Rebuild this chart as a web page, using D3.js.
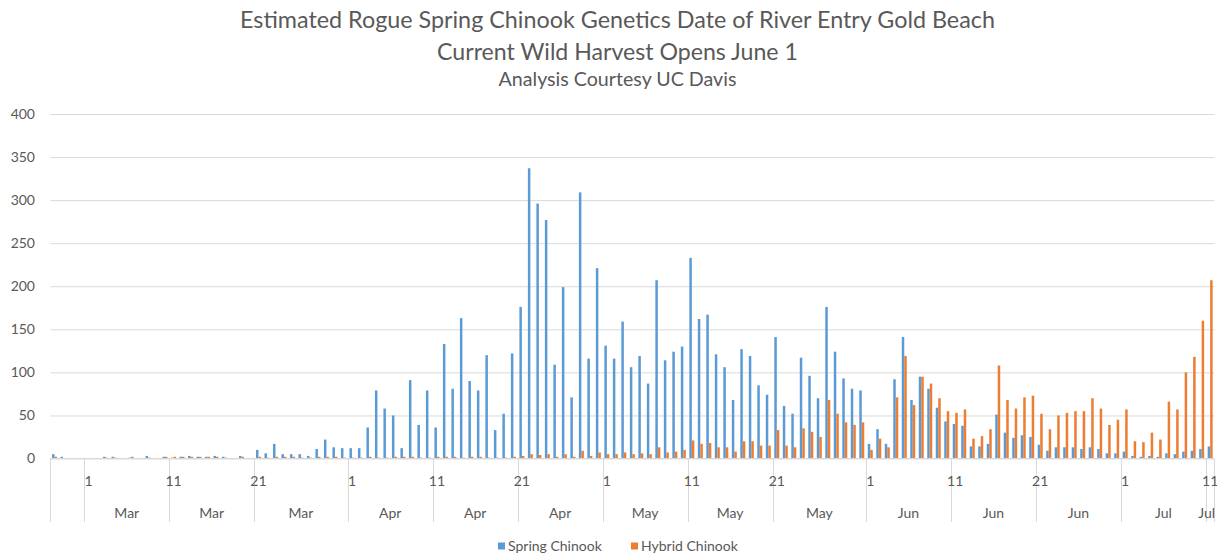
<!DOCTYPE html>
<html>
<head>
<meta charset="utf-8">
<script src="https://cdn.jsdelivr.net/npm/d3@7"></script>
<style>
  body { margin: 0; background: #ffffff; }
  svg { display: block; font-family: Lato, "Open Sans", "DejaVu Sans", sans-serif; }
</style>
</head>
<body>
<svg id="chart" width="1217" height="558"></svg>
<script>
// ---------------- DATA ----------------
const titleLines = [
  "Estimated Rogue Spring Chinook Genetics Date of River Entry Gold Beach",
  "Current Wild Harvest Opens June 1",
  "Analysis Courtesy UC Davis"
];
const seriesNames = ["Spring Chinook", "Hybrid Chinook"];
const seriesColors = ["#5B9BD5", "#ED7D31"];

// categories: one per day, Feb 25 through Jul 11
const firstDay = new Date(2019, 1, 25);
const dayAfterLast = new Date(2019, 6, 12);
const categories = d3.timeDay.range(firstDay, dayAfterLast);

const springChinook = [
  5, 2, 0, 0, 0, 0, 2, 2, 0, 1,
  0, 3, 0, 2, 1, 2, 3, 2, 2, 3,
  2, 0, 3, 0, 10, 6, 17, 5, 5, 5,
  3, 11, 22, 13, 12, 12, 12, 36, 79, 58,
  50, 12, 91, 39, 79, 36, 133, 81, 163, 90,
  79, 120, 33, 52, 122, 176, 337, 296, 277, 109,
  199, 71, 309, 116, 221, 131, 116, 159, 106, 119,
  87, 207, 114, 124, 130, 233, 162, 167, 121, 106,
  68, 127, 119, 85, 74, 141, 61, 52, 117, 96,
  70, 176, 124, 93, 81, 79, 17, 34, 17, 92,
  141, 68, 95, 81, 59, 43, 40, 38, 14, 14,
  17, 51, 30, 24, 27, 25, 16, 9, 13, 13,
  13, 11, 13, 11, 6, 6, 8, 3, 2, 3,
  2, 6, 5, 8, 9, 11, 14
];
const hybridChinook = [
  2, 0, 0, 0, 0, 0, 1, 1, 0, 2,
  0, 1, 0, 2, 2, 2, 2, 2, 2, 2,
  1, 0, 2, 0, 2, 1, 2, 2, 2, 1,
  1, 2, 2, 2, 1, 1, 1, 2, 1, 1,
  2, 2, 2, 1, 1, 2, 2, 2, 1, 2,
  2, 1, 1, 1, 2, 3, 5, 4, 5, 2,
  5, 2, 9, 3, 7, 5, 5, 7, 5, 6,
  5, 13, 7, 8, 10, 21, 17, 18, 13, 13,
  8, 20, 20, 15, 15, 33, 15, 13, 35, 31,
  25, 68, 52, 42, 39, 42, 10, 23, 13, 71,
  119, 62, 95, 87, 70, 55, 53, 57, 23, 26,
  34, 108, 68, 58, 71, 73, 52, 34, 50, 53,
  55, 55, 70, 58, 39, 45, 57, 20, 19, 30,
  22, 66, 57, 100, 118, 160, 207
];
const yTicks = [0, 50, 100, 150, 200, 250, 300, 350, 400];
const labelledDays = [1, 11, 21];
const monthNames = ["Jan","Feb","Mar","Apr","May","Jun","Jul","Aug","Sep","Oct","Nov","Dec"];

// ---------------- LAYOUT ----------------
const svg = d3.select("#chart");
const plotLeft = 50.3, plotRight = 1214.4, plotTop = 114, plotBottom = 458.5;
const textColor = "#595959";
const gridColor = "#d9d9d9";

const x = d3.scaleBand().domain(categories).range([plotLeft, plotRight]).padding(0);
const xSub = d3.scaleBand().domain(seriesNames).range([0, x.bandwidth()])
  .paddingInner(0).paddingOuter(0.7);
const y = d3.scaleLinear().domain([0, 400]).range([plotBottom, plotTop]);

// titles
function fitWidth(sel, target) {
  const w = sel.node().getComputedTextLength();
  const fs = parseFloat(sel.attr("font-size"));
  sel.attr("font-size", (fs * target / w).toFixed(2));
}
const titleSpecs = [
  { y: 28, size: 21, width: 755 },
  { y: 60, size: 21, width: 361 },
  { y: 86, size: 16, width: 238 }
];
titleLines.forEach((t, i) => {
  const s = svg.append("text")
    .attr("x", 617.5).attr("y", titleSpecs[i].y)
    .attr("text-anchor", "middle")
    .attr("font-size", titleSpecs[i].size)
    .attr("fill", textColor)
    .text(t);
  fitWidth(s, titleSpecs[i].width);
});

// gridlines + y labels
const yAxis = d3.axisLeft(y).tickValues(yTicks).tickSize(-(plotRight - plotLeft)).tickPadding(15);
const gy = svg.append("g").attr("transform", `translate(${plotLeft},0)`).call(yAxis);
gy.select(".domain").remove();
gy.selectAll(".tick line").attr("stroke", gridColor).attr("stroke-width", 1);
gy.selectAll(".tick text").attr("fill", textColor).attr("font-size", 14)
  .attr("font-family", "Lato, 'Open Sans', sans-serif").attr("x", 35 - plotLeft);

// bars
const series = [springChinook, hybridChinook];
series.forEach((vals, si) => {
  svg.append("g").selectAll("rect")
    .data(categories.map((d, i) => ({ d, v: vals[i] })))
    .join("rect")
    .attr("x", p => x(p.d) + xSub(seriesNames[si]))
    .attr("width", xSub.bandwidth())
    .attr("y", p => y(p.v))
    .attr("height", p => y(0) - y(p.v))
    .attr("fill", seriesColors[si]);
});

// x axis baseline
svg.append("line")
  .attr("x1", plotLeft).attr("x2", plotRight)
  .attr("y1", plotBottom).attr("y2", plotBottom)
  .attr("stroke", gridColor).attr("stroke-width", 1);

// separators & labels
const labelDates = categories.filter(d => labelledDays.includes(d.getDate()));
const sepXs = [plotLeft, ...labelDates.map(d => x(d)), plotRight];
svg.append("g").selectAll("line").data(sepXs).join("line")
  .attr("x1", d => Math.round(d) + 0.5).attr("x2", d => Math.round(d) + 0.5)
  .attr("y1", plotBottom).attr("y2", 522)
  .attr("stroke", gridColor).attr("stroke-width", 1);

svg.append("g").selectAll("text").data(labelDates).join("text")
  .attr("x", d => x(d) + x.bandwidth() / 2)
  .attr("y", 486)
  .attr("text-anchor", "middle")
  .attr("font-size", 14)
  .attr("fill", textColor)
  .text(d => String(d.getDate()));

const segs = labelDates.map((d, i) => ({
  d, x0: x(d), x1: i + 1 < labelDates.length ? x(labelDates[i + 1]) : plotRight,
  last: i + 1 === labelDates.length
}));
svg.append("g").selectAll("text").data(segs).join("text")
  .attr("x", s => s.last ? 1215 : (s.x0 + s.x1) / 2)
  .attr("y", 518)
  .attr("text-anchor", s => s.last ? "end" : "middle")
  .attr("font-size", 14)
  .attr("fill", textColor)
  .text(s => monthNames[s.d.getMonth()]);

// legend
const legendItems = [
  { name: seriesNames[0], color: seriesColors[0], sx: 498 },
  { name: seriesNames[1], color: seriesColors[1], sx: 631 }
];
const lg = svg.append("g");
legendItems.forEach(it => {
  lg.append("rect").attr("x", it.sx).attr("y", 542.5).attr("width", 7).attr("height", 7).attr("fill", it.color);
  lg.append("text").attr("x", it.sx + 10).attr("y", 551)
    .attr("font-size", 14).attr("fill", textColor).text(it.name);
});
</script>
</body>
</html>
